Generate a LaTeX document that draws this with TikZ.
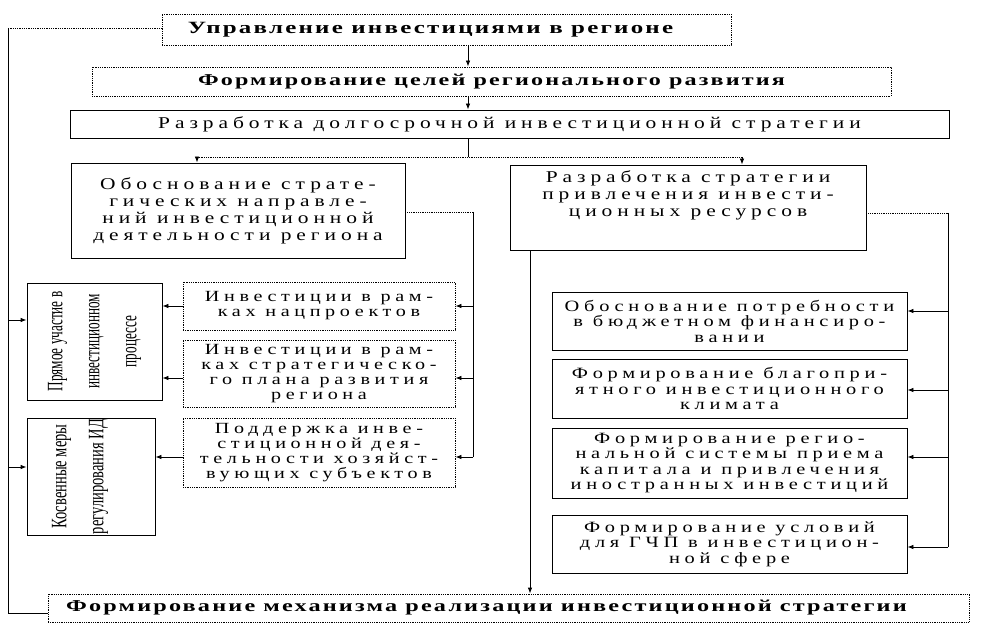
\documentclass[tikz,border=0pt]{standalone}
\usepackage{fontspec}
\setmainfont{Liberation Serif}
\newfontfamily\spaced[FakeStretch=1.3, LetterSpace=30]{Liberation Serif}
\newfontfamily\bspaced[FakeStretch=1.45, LetterSpace=13]{Liberation Serif}
\newfontfamily\narrowf{Liberation Serif}
\usetikzlibrary{arrows.meta}
\newcommand{\sqa}[1]{\scalebox{0.6}[1]{#1}}
\newcommand{\sqb}[1]{\scalebox{0.66}[1]{#1}}
\begin{document}
\begin{tikzpicture}[x=1pt,y=-1pt,
  box/.style={draw, thick, align=center, inner sep=1pt, font=\spaced\fontsize{16.5}{17}\selectfont},
  dotbox/.style={box, densely dotted},
  midbox/.style={dotbox, font=\spaced\fontsize{15.5}{15}\selectfont},
  rbox/.style={box, font=\spaced\fontsize{15.7}{15.5}\selectfont},
  bbox/.style={draw, thick, densely dotted, align=center, inner sep=1pt, font=\bspaced\bfseries\fontsize{17}{19}\selectfont},
  vbox/.style={draw, thick, align=center, inner sep=1pt},
  vtext/.style={rotate=90, align=center, font=\narrowf\fontsize{22}{37}\selectfont},
  arr/.style={-{Latex[length=6pt,width=4.5pt]}, thick},
  dline/.style={densely dotted, thick},
  sline/.style={thick}]
\useasboundingbox (0,0) rectangle (988,636);
% main column
\node[bbox, minimum width=569pt, minimum height=31pt, font=\bspaced\bfseries\fontsize{17.2}{20}\selectfont] (top) at (446.5,29.5) {\hspace*{-32pt}Управление инвестициями в регионе};
\node[bbox, minimum width=799pt, minimum height=29pt, font=\bspaced\bfseries\fontsize{16.6}{19}\selectfont] (goals) at (491.5,81.5) {Формирование целей регионального развития};
\node[box, minimum width=879pt, minimum height=28pt] (strat) at (509.5,124) {Разработка долгосрочной инвестиционной стратегии};
\node[box, minimum width=334pt, minimum height=95pt] (obos) at (238,210.5) {Обоснование страте-\\гических направле-\\ний инвестиционной\\деятельности региона};
\node[box, minimum width=356pt, minimum height=85pt] (razr) at (688,207.5) {};
\node[align=center, inner sep=0pt, anchor=north, font=\spaced\fontsize{16.5}{17}\selectfont] (razrt) at (688,170) {Разработка стратегии\\привлечения инвести-\\ционных ресурсов};
% left column
\node[vbox, minimum width=135pt, minimum height=117pt] (pryam) at (94.5,341.5) {};
\node[vtext] (pryamt) at (pryam.center) {\sqa{Прямое участие в}\\\sqa{инвестиционном}\\\sqa{процессе}};
\node[vbox, minimum width=128pt, minimum height=117pt] (kosv) at (91,476.5) {};
\node[vtext] (kosvt) at ([xshift=-11pt]kosv.center) {\sqb{Косвенные меры}\\\sqb{регулирования ИД}};
% middle column
\node[midbox, minimum width=272pt, minimum height=48pt] (m1) at (319,306) {Инвестиции в рам-\\ках нацпроектов};
\node[midbox, minimum width=272pt, minimum height=67pt] (m2) at (319,373.5) {Инвестиции в рам-\\ках стратегическо-\\го плана развития\\региона};
\node[midbox, minimum width=272pt, minimum height=69pt] (m3) at (319,452.5) {Поддержка инве-\\стиционной дея-\\тельности хозяйст-\\вующих субъектов};
% right column
\node[rbox, minimum width=355pt, minimum height=58pt] (r1) at (729.5,321) {Обоснование потребности\\в бюджетном финансиро-\\вании};
\node[rbox, minimum width=355pt, minimum height=59pt] (r2) at (729.5,388.5) {Формирование благопри-\\ятного инвестиционного\\климата};
\node[rbox, minimum width=355pt, minimum height=70pt] (r3) at (729.5,463) {Формирование регио-\\нальной системы приема\\капитала и привлечения\\иностранных инвестиций};
\node[rbox, minimum width=355pt, minimum height=58pt] (r4) at (729.5,544) {Формирование условий\\для ГЧП в инвестицион-\\ной сфере};
% bottom
\node[bbox, minimum width=921pt, minimum height=28pt, font=\bspaced\bfseries\fontsize{16.7}{19}\selectfont] (bot) at (508.5,608) {\hspace*{-44pt}Формирование механизма реализации инвестиционной стратегии};
% helper coordinates
\coordinate (cx) at (468,0);
\coordinate (split) at (468,157);
\coordinate (sl) at (197,157);
\coordinate (sr) at (742,157);
\coordinate (lt) at (473,212);
\coordinate (lb) at (473,457);
\coordinate (rt) at (948,213);
\coordinate (rb) at (948,547);
\coordinate (ft) at (8,28);
\coordinate (fb) at (8,613);
\coordinate (rx) at (530,0);
% connectors main
\draw[arr] (top.south -| cx) -- (goals.north -| cx);
\draw[arr] (goals.south -| cx) -- (strat.north -| cx);
\draw[sline] (strat.south -| cx) -- (split);
\draw[dline] (sl) -- (sr);
\draw[arr] (sl) -- (obos.north -| sl);
\draw[arr] (sr) -- (razr.north -| sr);
% left branch
\draw[dline] (obos.east |- lt) -- (lt);
\draw[sline] (lt) -- (lb);
\draw[arr] (lt |- m1.east) -- (m1.east);
\draw[arr] (lt |- 0,378) -- (m2.east |- 0,378);
\draw[arr] (lb) -- (m3.east |- lb);
\draw[arr] (m1.west) -- (pryam.east |- m1.west);
\draw[arr] (m2.west |- 0,378) -- (pryam.east |- 0,378);
\draw[arr] (m3.west |- lb) -- (kosv.east |- lb);
% feedback line
\draw[dline] (top.west |- ft) -- (ft);
\draw[sline] (ft) -- (fb) -- (bot.west |- fb);
\draw[arr] (ft |- 0,320) -- (pryam.west |- 0,320);
\draw[arr] (ft |- 0,467) -- (kosv.west |- 0,467);
% right branch
\draw[dline] (razr.east |- rt) -- (rt);
\draw[sline] (rt) -- (rb);
\draw[arr] (rt |- 0,311) -- (r1.east |- 0,311);
\draw[arr] (rt |- 0,390) -- (r2.east |- 0,390);
\draw[arr] (rt |- 0,457) -- (r3.east |- 0,457);
\draw[arr] (rb) -- (r4.east |- rb);
\draw[arr] (razr.south -| rx) -- (bot.north -| rx);
\end{tikzpicture}
\end{document}
